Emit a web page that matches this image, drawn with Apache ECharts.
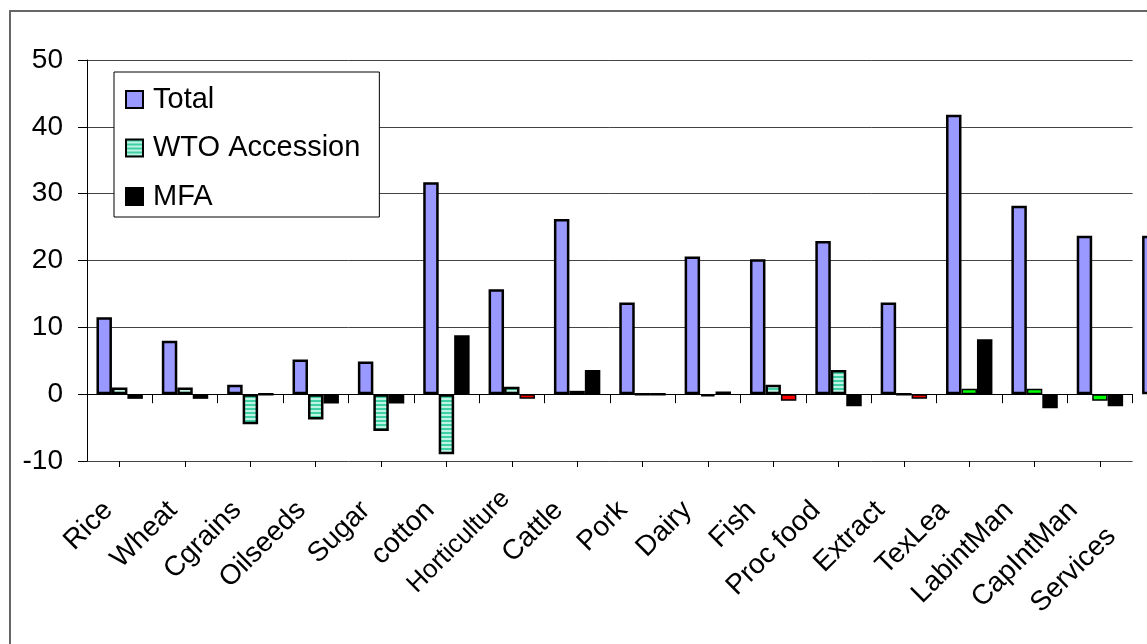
<!DOCTYPE html>
<html>
<head>
<meta charset="utf-8">
<script src="https://cdn.jsdelivr.net/npm/echarts@6/dist/echarts.min.js"></script>
<style>
  html, body { margin: 0; padding: 0; background: #ffffff; }
  #chart { width: 1147px; height: 644px; }
</style>
</head>
<body>
<div id="chart"></div>
<script>
// Sector results: total change and its two components (percent)
const categories = ['Rice', 'Wheat', 'Cgrains', 'Oilseeds', 'Sugar', 'cotton', 'Horticulture',
  'Cattle', 'Pork', 'Dairy', 'Fish', 'Proc food', 'Extract', 'TexLea', 'LabintMan',
  'CapIntMan', 'Services'];
const totalValues = [11.5, 8.0, 1.4, 5.2, 4.9, 31.7, 15.7, 26.2, 13.7, 20.6, 20.2, 22.9,
  13.7, 41.8, 28.2, 23.7, 23.7];
const wtoValues = [1.0, 1.0, -4.5, -3.8, -5.5, -9.0, 1.1, 0.5, 0, -0.3, 1.4, 3.6,
  0, 0.8, 0.8, -1.0, null];
const mfaValues = [-0.7, -0.7, 0, -1.4, -1.4, 8.8, -0.7, 3.6, 0, 0.4, -1.0, -1.8,
  -0.7, 8.2, -2.1, -1.8, null];
const seriesNames = ['Total', 'WTO Accession', 'MFA'];
const yTicks = { min: -10, max: 50, step: 10 };

// Single-point fill overrides (index -> colour)
const wtoPointColours = { 13: '#00ff00', 14: '#00ff00', 15: '#00ff00' };
const mfaPointColours = { 6: '#ff0000', 10: '#ff0000', 12: '#ff0000' };

// Horizontal-line hatch used for the accession bars
function stripeTile() {
  const c = document.createElement('canvas');
  c.width = 4; c.height = 4;
  const g = c.getContext('2d');
  g.fillStyle = '#bff3e2'; g.fillRect(0, 0, 4, 4);
  g.fillStyle = '#3fd0a6'; g.fillRect(0, 0, 4, 2);
  return c;
}
const stripe = { image: stripeTile(), repeat: 'repeat' };

// Highlighted points keep a thinner outline so their fill stays visible
function withColours(values, colours) {
  return values.map((v, i) => colours[i] !== undefined
    ? { value: v, itemStyle: { color: colours[i], borderWidth: 1.5 } } : v);
}

const FONT = '"Liberation Sans", Arial, sans-serif';
const plotCats = categories.slice(0, 16);
const slot = 65.35;
const labelPad = 16;   // default right padding of the slanted category labels
const padShift = labelPad * Math.SQRT1_2;
const outline = { borderColor: '#000', borderWidth: 2.5 };

const chart = echarts.init(document.getElementById('chart'), null, { renderer: 'canvas' });

// Per-label tweaks: smaller face for the long label, last label pulled inside the frame
const labelTweaks = {
  Horticulture: { fontSize: 26, padding: [0, 0, 46, 0] },
  Services: { padding: [18, 53, 0, 0] }
};
const labelData = categories.map(c => labelTweaks[c]
  ? { value: c, textStyle: labelTweaks[c] } : c);

const hidden = {
  show: false, axisLine: { show: false }, axisTick: { show: false },
  axisLabel: { show: false }, splitLine: { show: false }
};

const option = {
  backgroundColor: '#ffffff',
  animation: false,
  textStyle: { fontFamily: FONT },
  graphic: [{
    type: 'rect', z: -10,
    shape: { x: 10, y: 11, width: 1400, height: 1000 },
    style: { fill: null, stroke: '#666666', lineWidth: 2 }
  }],
  legend: {
    data: seriesNames,
    orient: 'vertical',
    left: 114, top: 72,
    padding: [13, 19, 6, 11],
    itemGap: 19.5,
    itemWidth: 17, itemHeight: 17,
    icon: 'rect',
    itemStyle: { borderColor: '#000', borderWidth: 2 },
    backgroundColor: '#ffffff',
    borderColor: '#000000', borderWidth: 1,
    textStyle: { fontSize: 29, color: '#000', fontFamily: FONT, padding: [0, 0, 0, 5], lineHeight: 29 }
  },
  grid: [
    // bars
    { left: 87, top: 60, width: slot * 17, height: 401, outerBoundsMode: 'none', containLabel: false },
    // plot frame: gridlines, axes, ticks
    { left: 87, top: 60, width: slot * 16, height: 401, outerBoundsMode: 'none', containLabel: false },
    // category labels
    { left: 76.2 + padShift, top: 60, width: 64.33 * 17, height: 401, outerBoundsMode: 'none', containLabel: false }
  ],
  xAxis: [
    Object.assign({ type: 'category', gridIndex: 0, data: categories }, hidden),
    {
      type: 'category', gridIndex: 1, data: plotCats, position: 'bottom',
      axisLine: { onZero: true, lineStyle: { color: '#000', width: 1 } },
      axisTick: { show: true, interval: 0, length: 9, alignWithLabel: false, lineStyle: { color: '#000' } },
      axisLabel: { show: false, interval: 0 }, splitLine: { show: false }
    },
    {
      type: 'category', gridIndex: 1, data: plotCats, position: 'bottom',
      axisLine: { show: false, onZero: true },
      axisTick: { show: true, interval: 0, length: 6, alignWithLabel: true, lineStyle: { color: '#000' } },
      axisLabel: { show: false, interval: 0 }, splitLine: { show: false }
    },
    {
      type: 'category', gridIndex: 2, data: labelData, position: 'bottom',
      axisLine: { show: false, onZero: false }, axisTick: { show: false }, splitLine: { show: false },
      axisLabel: {
        interval: 0, rotate: 45, margin: 45 - padShift, fontSize: 28, color: '#000',
        fontFamily: FONT, padding: [0, labelPad, 0, 0]
      }
    }
  ],
  yAxis: [
    Object.assign({ type: 'value', gridIndex: 0, min: yTicks.min, max: yTicks.max, interval: yTicks.step }, hidden),
    {
      type: 'value', gridIndex: 1, min: yTicks.min, max: yTicks.max, interval: yTicks.step,
      axisLine: { show: true, lineStyle: { color: '#000', width: 1 } },
      axisTick: { show: true, length: 9, lineStyle: { color: '#000' } },
      axisLabel: { fontSize: 28, color: '#000', margin: 24, fontFamily: FONT },
      splitLine: { show: true, lineStyle: { color: '#444', width: 1 } }
    },
    Object.assign({ type: 'value', gridIndex: 2, min: yTicks.min, max: yTicks.max, interval: yTicks.step }, hidden)
  ],
  series: [
    {
      name: seriesNames[0], type: 'bar', xAxisIndex: 0, yAxisIndex: 0,
      data: totalValues, barGap: '0%', barCategoryGap: '29%',
      itemStyle: Object.assign({ color: '#9999ff' }, outline)
    },
    {
      name: seriesNames[1], type: 'bar', xAxisIndex: 0, yAxisIndex: 0,
      data: withColours(wtoValues, wtoPointColours), barGap: '0%', barCategoryGap: '29%',
      itemStyle: Object.assign({ color: stripe }, outline)
    },
    {
      name: seriesNames[2], type: 'bar', xAxisIndex: 0, yAxisIndex: 0,
      data: withColours(mfaValues, mfaPointColours), barGap: '0%', barCategoryGap: '29%',
      itemStyle: Object.assign({ color: '#000000' }, outline)
    }
  ]
};

chart.setOption(option);
</script>
</body>
</html>
